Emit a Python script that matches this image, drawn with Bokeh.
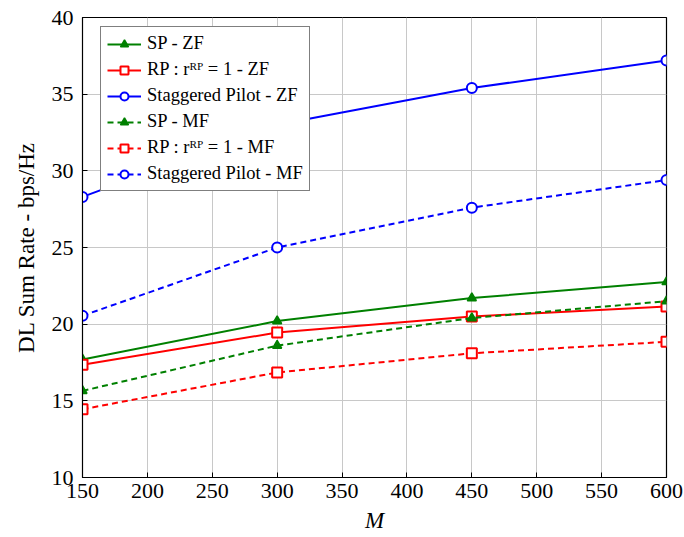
from bokeh.plotting import figure
from bokeh.models import Legend, LegendItem, FixedTicker, Range1d
from bokeh.embed import file_html
from bokeh.resources import INLINE

M = [150, 300, 450, 600]
sp_zf = [17.7, 20.2, 21.7, 22.75]
rp_zf = [17.35, 19.45, 20.5, 21.15]
stag_zf = [28.3, 33.0, 35.4, 37.2]
sp_mf = [15.65, 18.6, 20.4, 21.5]
rp_mf = [14.45, 16.85, 18.1, 18.85]
stag_mf = [20.55, 25.0, 27.6, 29.4]

x_ticks = [150, 200, 250, 300, 350, 400, 450, 500, 550, 600]
y_ticks = [10, 15, 20, 25, 30, 35, 40]

GREEN = "#008000"
RED = "#ff0000"
BLUE = "#0000ff"
FONT = "Liberation Serif"

p = figure(width=684, height=537, output_backend="svg", toolbar_location=None,
           x_range=Range1d(150, 600), y_range=Range1d(10, 40),
           min_border_left=82, min_border_right=18, min_border_top=17, min_border_bottom=60)
p.outline_line_color = "black"
p.outline_line_width = 1.2
p.background_fill_color = "white"
p.border_fill_color = "white"

for ax in [p.xaxis[0], p.yaxis[0]]:
    ax.major_tick_in = 5
    ax.major_tick_out = 0
    ax.minor_tick_line_color = None
    ax.axis_line_color = "black"
    ax.major_label_text_font = FONT
    ax.major_label_text_font_size = "22px"
    ax.major_label_text_color = "black"
    ax.axis_label_text_font = FONT
    ax.axis_label_text_font_size = "23px"
    ax.axis_label_text_color = "black"

p.xaxis.ticker = FixedTicker(ticks=x_ticks)
p.yaxis.ticker = FixedTicker(ticks=y_ticks)
p.xaxis.axis_label = "M"
p.xaxis.axis_label_text_font_style = "italic"
p.xaxis.major_label_standoff = 6
p.xaxis.axis_label_standoff = 7
p.yaxis.axis_label = "DL Sum Rate - bps/Hz"
p.yaxis.axis_label_text_font_style = "normal"
p.yaxis.major_label_standoff = 9
p.yaxis.axis_label_standoff = 10

p.xgrid.ticker = FixedTicker(ticks=x_ticks)
p.ygrid.ticker = FixedTicker(ticks=y_ticks)
p.grid.grid_line_color = "#c8c8c8"
p.grid.grid_line_width = 1

items = []
series = [
    ("SP - ZF", sp_zf, GREEN, "solid", "triangle"),
    ("RP : rᴿᴾ = 1 - ZF", rp_zf, RED, "solid", "square"),
    ("Staggered Pilot - ZF", stag_zf, BLUE, "solid", "circle"),
    ("SP - MF", sp_mf, GREEN, "6 4", "triangle"),
    ("RP : rᴿᴾ = 1 - MF", rp_mf, RED, "6 4", "square"),
    ("Staggered Pilot - MF", stag_mf, BLUE, "6 4", "circle"),
]
for label, ys, color, dash, marker in series:
    l = p.line(M, ys, line_color=color, line_width=2, line_dash=dash)
    if marker == "triangle":
        s = p.scatter(M, ys, marker="triangle", size=9, line_color=color,
                      fill_color=color, line_width=1.5)
    elif marker == "square":
        s = p.scatter(M, ys, marker="square", size=10, line_color=color,
                      fill_color="white", line_width=2)
    else:
        s = p.scatter(M, ys, marker="circle", size=10, line_color=color,
                      fill_color="white", line_width=2)
    items.append(LegendItem(label=label, renderers=[l, s]))

legend = Legend(items=items, location=(18, 286), margin=0,
                label_text_font=FONT, label_text_font_size="18.5px",
                label_text_color="black", label_height=20, label_standoff=6,
                glyph_width=34, glyph_height=20, spacing=5, padding=6,
                border_line_color="black", border_line_width=1.2,
                background_fill_alpha=1.0)
p.add_layout(legend, "center")

open("out.html", "w").write(file_html(p, INLINE))
